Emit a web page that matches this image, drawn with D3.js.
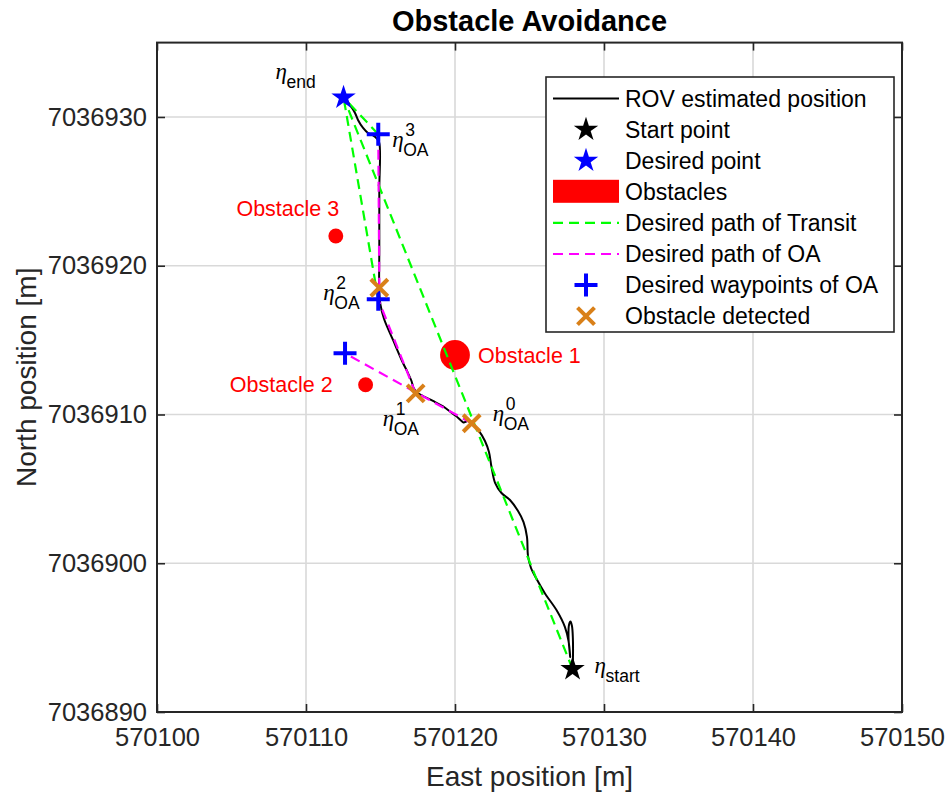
<!DOCTYPE html>
<html>
<head>
<meta charset="utf-8">
<script src="https://cdn.jsdelivr.net/npm/d3@7"></script>
<style>
  body { margin: 0; background: #fff; }
  svg { display: block; }
</style>
</head>
<body>
<svg id="chart" width="946" height="794"></svg>
<script>
// ---- Axis ticks ----
const xTicks = [570100, 570110, 570120, 570130, 570140, 570150];
const yTicks = [7036890, 7036900, 7036910, 7036920, 7036930];

// ---- ROV estimated position (East / North, metres) ----
const rovEast = [
  570127.89, 570127.92, 570127.91, 570127.85, 570127.75, 570127.65, 570127.62, 570127.69,
  570127.73, 570127.62, 570127.38, 570126.85, 570126.04, 570125.44, 570125.10, 570124.90,
  570124.83, 570124.60, 570124.23, 570123.69, 570123.12, 570122.69, 570122.45, 570122.28,
  570122.01, 570121.56, 570121.28, 570121.04, 570120.87, 570120.71, 570120.57, 570120.40,
  570120.07, 570119.66, 570119.20, 570118.52, 570117.85, 570117.45, 570117.22, 570117.08,
  570116.78, 570116.51, 570115.84, 570115.24, 570115.00, 570114.92, 570114.92, 570114.92,
  570114.92, 570114.77, 570114.50, 570114.16, 570113.83, 570113.49, 570113.29, 570112.95,
  570112.69, 570112.52
];
const rovNorth = [
  7036892.89, 7036893.83, 7036894.98, 7036895.78, 7036896.08, 7036895.85, 7036894.98, 7036894.10,
  7036893.70, 7036894.77, 7036895.71, 7036896.79, 7036897.97, 7036899.01, 7036899.68, 7036900.49,
  7036901.77, 7036902.77, 7036903.51, 7036904.25, 7036904.72, 7036905.40, 7036906.47, 7036907.48,
  7036908.22, 7036908.96, 7036909.29, 7036909.56, 7036909.63, 7036909.50, 7036909.46, 7036909.60,
  7036909.90, 7036910.20, 7036910.54, 7036910.91, 7036911.24, 7036911.48, 7036911.78, 7036912.25,
  7036912.92, 7036913.46, 7036915.01, 7036916.42, 7036917.36, 7036918.17, 7036921.06, 7036925.09,
  7036928.25, 7036928.52, 7036928.76, 7036928.92, 7036929.26, 7036929.80, 7036930.27, 7036930.81,
  7036931.14, 7036931.31
];

// ---- Start / desired point ----
const startEast = 570127.89, startNorth = 7036892.89;
const goalEast = 570112.52, goalNorth = 7036931.31;

// ---- Obstacles ----
const obstacleNames = ["Obstacle 1", "Obstacle 2", "Obstacle 3"];
const obstacleEast = [570120, 570114, 570112];
const obstacleNorth = [7036914, 7036912, 7036922];
const obstacleRadius = [1.0, 0.5, 0.5];

// ---- Obstacle-avoidance waypoints and detection points ----
const waypointEast = [570112.62, 570114.85, 570114.85];
const waypointNorth = [7036914.11, 7036917.74, 7036928.84];
const detectedEast = [570121.12, 570117.36, 570114.92];
const detectedNorth = [7036909.41, 7036911.42, 7036918.52];

// ---- Transit legs towards the desired point (leg origins) ----
const transitFromEast = [570127.89, 570114.85, 570114.85];
const transitFromNorth = [7036892.89, 7036917.74, 7036928.84];

const legendLabels = [
  "ROV estimated position", "Start point", "Desired point", "Obstacles",
  "Desired path of Transit", "Desired path of OA", "Desired waypoints of OA", "Obstacle detected"
];

// ---------------------------------------------------------------
const svg = d3.select("#chart");
const FONT = "'Liberation Sans', Arial, Helvetica, sans-serif";
const pL = 157, pR = 902, pT = 42.6, pB = 712;

const x = d3.scaleLinear().domain([570100, 570150]).range([pL, pR]);
const y = d3.scaleLinear().domain([7036890, 7036935]).range([pB, pT]);

const AX = "#262626";
const GREEN = "#00ff00", MAGENTA = "#ff00ff", BLUE = "#0000ff", ORANGE = "#d98019", RED = "#ff0000";

svg.append("rect").attr("width", 946).attr("height", 794).attr("fill", "#fff");

// grid
const grid = svg.append("g").attr("stroke", "#d9d9d9").attr("stroke-width", 1.6);
grid.selectAll("line.gx").data(xTicks).join("line").attr("class", "gx")
  .attr("x1", d => x(d)).attr("x2", d => x(d)).attr("y1", pT).attr("y2", pB);
grid.selectAll("line.gy").data(yTicks).join("line").attr("class", "gy")
  .attr("y1", d => y(d)).attr("y2", d => y(d)).attr("x1", pL).attr("x2", pR);

// axes (ticks pointing inward on all four sides)
function styleAxis(g) {
  g.select(".domain").remove();
  g.selectAll(".tick line").attr("stroke", AX).attr("stroke-width", 1.6);
  g.selectAll(".tick text").attr("fill", "#262626").attr("font-family", FONT).attr("font-size", 25.5);
}
svg.append("g").attr("transform", `translate(0,${pB})`)
  .call(d3.axisBottom(x).tickValues(xTicks).tickFormat(d3.format("d")).tickSizeInner(-8).tickPadding(16))
  .call(styleAxis)
  .selectAll(".tick text").attr("dy", "0.71em");
svg.append("g").attr("transform", `translate(0,${pT})`)
  .call(d3.axisTop(x).tickValues(xTicks).tickFormat("").tickSizeInner(-8))
  .call(styleAxis);
svg.append("g").attr("transform", `translate(${pL},0)`)
  .call(d3.axisLeft(y).tickValues(yTicks).tickFormat(d3.format("d")).tickSizeInner(-8).tickPadding(10))
  .call(styleAxis)
  .selectAll(".tick text").attr("dy", "0.32em");
svg.append("g").attr("transform", `translate(${pR},0)`)
  .call(d3.axisRight(y).tickValues(yTicks).tickFormat("").tickSizeInner(-8))
  .call(styleAxis);

const plot = svg.append("g");

// obstacles
const rpx = r => x(570100 + r) - x(570100);
plot.selectAll("circle.obs").data(obstacleEast).join("circle").attr("class", "obs")
  .attr("cx", d => x(d)).attr("cy", (d, i) => y(obstacleNorth[i]))
  .attr("r", (d, i) => rpx(obstacleRadius[i])).attr("fill", RED);

// ROV trajectory
const rovPts = rovEast.map((e, i) => [x(e), y(rovNorth[i])]);
plot.append("path").attr("d", d3.line().curve(d3.curveCatmullRom.alpha(0.5))(rovPts))
  .attr("fill", "none").attr("stroke", "#000").attr("stroke-width", 2);

// transit legs
transitFromEast.forEach((e, i) => {
  plot.append("line")
    .attr("x1", x(e)).attr("y1", y(transitFromNorth[i]))
    .attr("x2", x(goalEast)).attr("y2", y(goalNorth))
    .attr("stroke", GREEN).attr("stroke-width", 2.2).attr("stroke-dasharray", "10,6");
});

// OA legs: detection point k -> waypoint k
detectedEast.forEach((e, i) => {
  plot.append("line")
    .attr("x1", x(e)).attr("y1", y(detectedNorth[i]))
    .attr("x2", x(waypointEast[i])).attr("y2", y(waypointNorth[i]))
    .attr("stroke", MAGENTA).attr("stroke-width", 2.2).attr("stroke-dasharray", "10,6");
});

// marker helpers
function plus(g, cx, cy, s) {
  g.append("path").attr("d", `M${cx - s},${cy}H${cx + s}M${cx},${cy - s}V${cy + s}`)
    .attr("stroke", BLUE).attr("stroke-width", 4).attr("fill", "none");
}
function cross(g, cx, cy, s) {
  g.append("path").attr("d", `M${cx - s},${cy - s}L${cx + s},${cy + s}M${cx - s},${cy + s}L${cx + s},${cy - s}`)
    .attr("stroke", ORANGE).attr("stroke-width", 4).attr("fill", "none");
}
const starPath = d3.symbol().type(d3.symbolStar).size(185)();
function star(g, cx, cy, color) {
  g.append("path").attr("d", starPath).attr("transform", `translate(${cx},${cy})`).attr("fill", color);
}

waypointEast.forEach((e, i) => plus(plot, x(e), y(waypointNorth[i]), 11.5));
detectedEast.forEach((e, i) => cross(plot, x(e), y(detectedNorth[i]), 8.5));
star(plot, x(startEast), y(startNorth), "#000");
star(plot, x(goalEast), y(goalNorth), BLUE);

// obstacle labels
const lab = svg.append("g").attr("font-family", FONT).attr("font-size", 21.5).attr("fill", RED);
const ox = i => x(obstacleEast[i]), oy = i => y(obstacleNorth[i]);
lab.append("text").attr("x", ox(0) + 23).attr("y", oy(0)).attr("dy", "0.35em").text(obstacleNames[0]);
lab.append("text").attr("x", ox(1) - 33).attr("y", oy(1)).attr("dy", "0.35em").attr("text-anchor", "end").text(obstacleNames[1]);
lab.append("text").attr("x", ox(2) - 48).attr("y", oy(2) - 28).attr("dy", "0.35em").attr("text-anchor", "middle").text(obstacleNames[2]);

// eta annotations
const ann = svg.append("g").attr("font-family", FONT).attr("fill", "#000");
function eta(px, py, sub, sup) {
  ann.append("text").attr("x", px).attr("y", py)
    .attr("font-family", "'Liberation Serif', 'DejaVu Serif', serif").attr("font-style", "italic")
    .attr("font-size", 23).text("η");
  ann.append("text").attr("x", px + 11).attr("y", py + 9).attr("font-size", 17.5).text(sub);
  if (sup !== null) ann.append("text").attr("x", px + 13).attr("y", py - 11).attr("font-size", 17.5).text(sup);
}
eta(x(goalEast) - 68, y(goalNorth) - 18, "end", null);
eta(x(startEast) + 22, y(startNorth) + 4, "start", null);
eta(x(waypointEast[2]) + 14, y(waypointNorth[2]) + 13, "OA", "3");
eta(x(detectedEast[2]) - 56, y(detectedNorth[2]) + 12, "OA", "2");
eta(x(detectedEast[1]) - 33, y(detectedNorth[1]) + 33, "OA", "1");
eta(x(detectedEast[0]) + 21, y(detectedNorth[0]) - 2, "OA", "0");

// axes box
svg.append("rect").attr("x", pL).attr("y", pT).attr("width", pR - pL).attr("height", pB - pT)
  .attr("fill", "none").attr("stroke", AX).attr("stroke-width", 2);

// titles
svg.append("text").attr("x", (pL + pR) / 2).attr("y", 31).attr("text-anchor", "middle")
  .attr("font-family", FONT).attr("font-weight", "bold").attr("font-size", 29).attr("fill", "#000")
  .text("Obstacle Avoidance");
svg.append("text").attr("x", (pL + pR) / 2).attr("y", 786).attr("text-anchor", "middle")
  .attr("font-family", FONT).attr("font-size", 28).attr("fill", "#262626").text("East position [m]");
svg.append("text").attr("transform", `translate(36,${(pT + pB) / 2}) rotate(-90)`).attr("text-anchor", "middle")
  .attr("font-family", FONT).attr("font-size", 28).attr("fill", "#262626").text("North position [m]");

// legend
const lg = svg.append("g");
const lx = 546, ly = 77, lw = 348, lh = 255, row0 = 98.5, rowH = 31.1;
lg.append("rect").attr("x", lx).attr("y", ly).attr("width", lw).attr("height", lh)
  .attr("fill", "#fff").attr("stroke", AX).attr("stroke-width", 1.6);
const sx0 = 553, sx1 = 619, smid = 586;
legendLabels.forEach((t, i) => {
  const cy = row0 + i * rowH;
  lg.append("text").attr("x", 625).attr("y", cy).attr("dy", "0.35em")
    .attr("font-family", FONT).attr("font-size", 23).attr("fill", "#000").text(t);
  if (i === 0) lg.append("line").attr("x1", sx0).attr("x2", sx1).attr("y1", cy).attr("y2", cy).attr("stroke", "#000").attr("stroke-width", 2);
  if (i === 1) star(lg, smid, cy, "#000");
  if (i === 2) star(lg, smid, cy, BLUE);
  if (i === 3) lg.append("rect").attr("x", sx0).attr("y", cy - 12).attr("width", sx1 - sx0).attr("height", 23).attr("fill", RED);
  if (i === 4 || i === 5) lg.append("line").attr("x1", sx0).attr("x2", sx1).attr("y1", cy).attr("y2", cy)
    .attr("stroke", i === 4 ? GREEN : MAGENTA).attr("stroke-width", 2.2).attr("stroke-dasharray", "10,6");
  if (i === 6) plus(lg, smid, cy, 11.5);
  if (i === 7) cross(lg, smid, cy, 8.5);
});
</script>
</body>
</html>
